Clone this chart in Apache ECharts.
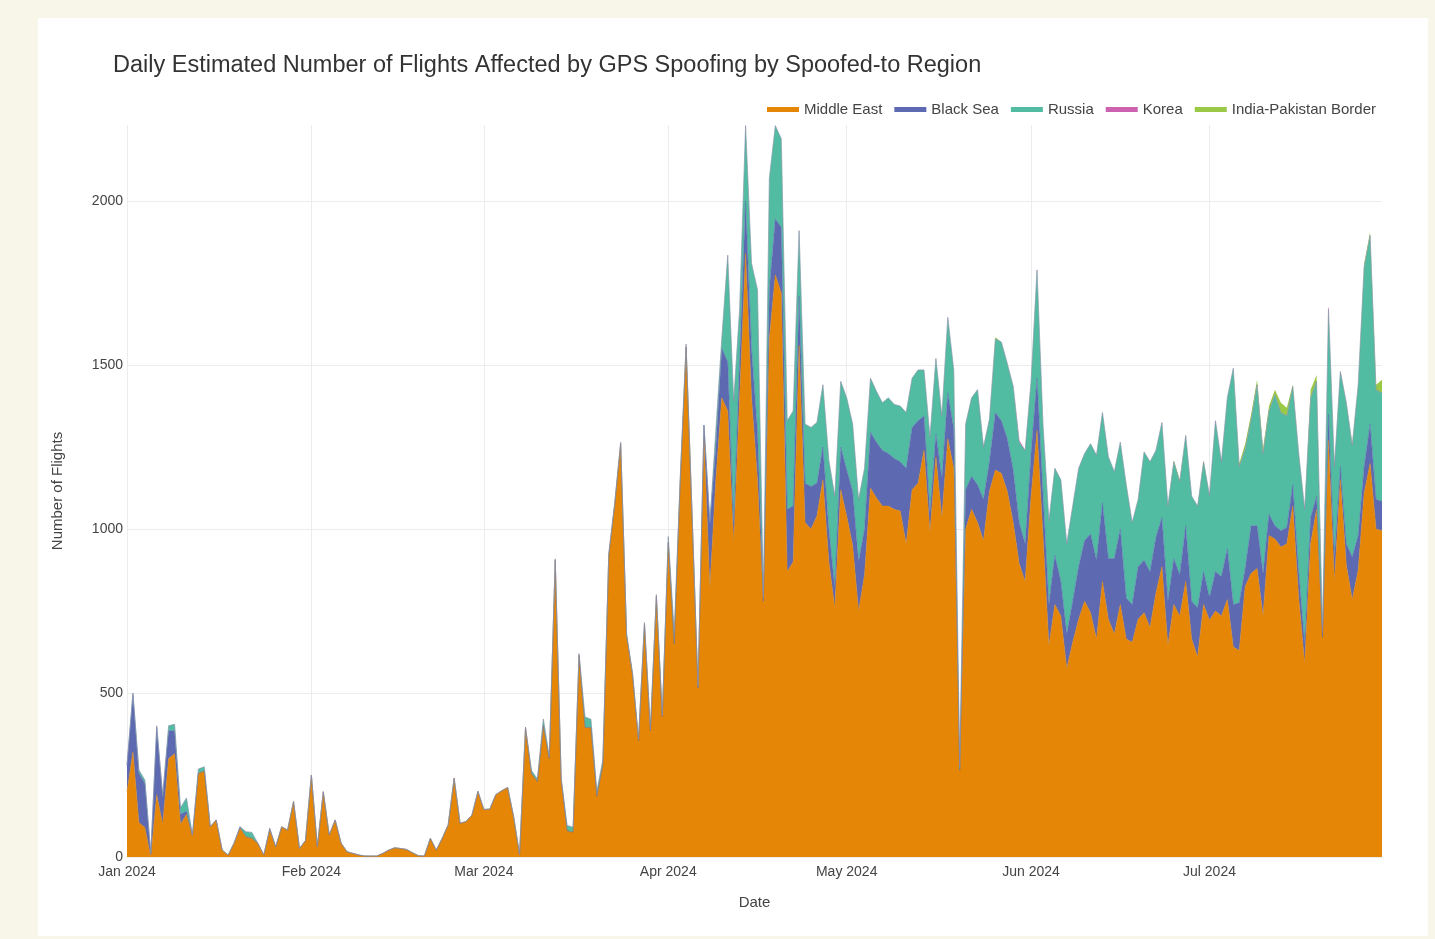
<!DOCTYPE html>
<html>
<head>
<meta charset="utf-8">
<title>GPS Spoofing by Region</title>
<script src="https://cdn.jsdelivr.net/npm/echarts@6/dist/echarts.min.js"></script>
<style>
  html, body { margin: 0; padding: 0; background: #f8f6e8; }
  #mainChart { position: absolute; left: 38px; top: 18px; width: 1390px; height: 918px; background: #ffffff; }
</style>
</head>
<body>
<div id="mainChart"></div>
<script>
/*每日数据, 2024-01-01 至 2024-07-30, 按月分行*/
var middleEast = [].concat(
    [200,320,105,90,0,190,100,300,315,100,130,62,255,262,92,113,21,6,42,88,62,57,42,6,82,31,92,82,169,26,50],
    [250,31,199,67,113,42,16,11,6,3,3,3,11,21,28,26,23,13,4,3,57,21,57,98,240,103,108,128,200],
    [145,146,190,202,212,123,8,395,255,230,400,300,905,236,80,76,615,395,395,185,280,920,1075,1260,675,555,355,710,385,795,428],
    [960,650,1140,1555,1045,515,1280,820,1150,1400,1360,960,1400,1840,1400,1150,770,1580,1775,1720,870,900,1560,1020,1000,1040,1150,900,760,1120],
    [1040,950,750,860,1125,1095,1070,1070,1060,1055,955,1120,1140,1240,990,1220,1035,1275,1185,255,1000,1060,1020,965,1115,1180,1170,1115,1020,895,840],
    [1100,1300,980,645,770,735,575,655,725,780,745,665,840,725,680,770,665,655,725,745,700,805,885,645,770,735,840,665,610,770],
    [722,750,735,785,640,630,825,865,880,735,980,970,945,955,1070,790,590,955,1060,660,1270,840,1150,890,785,875,1110,1200,1000,995]
);
var blackSea = [].concat(
    [80,175,150,135,10,205,85,85,70,30,10,5,0,0,0,0,0,0,0,4,0,0,0,0,5,0,0,0,0,0,0],
    [0,0,0,0,0,0,0,0,0,0,0,0,0,0,0,0,0,0,0,0,0,0,0,0,0,0,0,0,0],
    [0,0,0,0,0,0,0,0,0,0,0,0,0,0,0,0,0,0,0,0,0,0,0,0,0,0,0,0,0,0,0],
    [0,0,0,0,0,0,37,200,100,150,150,50,120,160,150,150,10,150,170,200,190,170,150,120,130,100,100,100,60,130],
    [140,165,150,140,170,170,170,160,155,150,230,190,190,105,60,70,120,140,120,10,120,100,115,125,90,175,160,160,160,125,115],
    [130,160,130,125,150,105,105,125,160,185,240,240,240,185,230,230,125,115,160,160,170,170,150,135,140,125,170,115,150,100],
    [70,120,120,155,130,145,55,145,130,130,65,40,50,50,65,80,60,80,40,10,80,75,40,65,130,105,80,120,90,90]
);
var russia = [].concat(
    [0,5,10,10,0,5,0,15,20,20,40,0,13,13,0,0,0,0,0,0,15,18,0,0,0,0,0,0,0,0,0],
    [0,0,0,0,0,0,0,0,0,0,0,0,0,0,0,0,0,0,0,0,0,0,0,0,0,0,0,0,0],
    [0,0,0,0,0,0,0,0,9,8,21,6,4,4,16,15,5,32,25,16,16,5,5,5,5,5,5,5,5,5,4],
    [17,33,10,9,5,5,0,0,50,30,325,380,150,230,260,430,10,340,285,270,270,290,200,180,180,185,190,210,280,200],
    [220,205,190,185,165,155,145,170,165,170,170,150,155,140,230,230,190,230,180,5,200,240,290,160,130,225,240,230,255,245,285],
    [220,330,210,255,265,310,275,290,300,265,275,320,275,310,265,265,345,250,205,330,335,265,290,290,295,285,275,320,310,335],
    [310,460,350,460,720,415,365,325,430,365,315,400,360,340,300,360,410,365,350,20,320,275,290,430,340,460,610,575,335,330]
);
var korea = [].concat(
    [0,0,0,0,0,0,0,0,0,0,0,0,0,0,0,0,0,0,0,0,0,0,0,0,0,0,0,0,0,0,0],
    [0,0,0,0,0,0,0,0,0,0,0,0,0,0,0,0,0,0,0,0,0,0,0,0,0,0,0,0,0],
    [0,0,0,0,0,0,0,0,0,0,0,0,0,0,0,0,0,0,0,0,0,0,0,0,0,0,0,0,0,0,0],
    [0,0,0,0,0,0,0,0,0,0,0,0,0,0,0,0,0,0,0,0,0,0,0,0,0,0,0,0,0,0],
    [0,0,0,0,0,0,0,0,0,0,0,0,0,0,0,0,0,0,0,5,0,0,0,0,0,0,0,0,0,5,0],
    [0,0,0,0,0,0,0,0,0,0,0,0,0,0,0,0,0,0,0,0,0,0,0,0,0,0,0,0,0,0],
    [0,0,0,0,0,0,0,0,0,0,0,0,0,0,0,0,0,0,0,0,5,0,0,0,0,0,0,0,0,0]
);
var indiaPakistan = [].concat(
    [0,0,0,0,0,0,0,0,0,0,0,0,0,0,0,0,0,0,0,0,0,0,0,0,0,0,0,0,0,0,0],
    [0,0,0,0,0,0,0,0,0,0,0,0,0,0,0,0,0,0,0,0,0,0,0,0,0,0,0,0,0],
    [0,0,0,0,0,0,0,0,0,0,0,0,0,0,0,0,0,0,0,0,0,0,0,0,0,0,0,0,0,0,0],
    [0,0,0,0,0,0,0,0,0,0,0,0,0,0,0,0,0,0,0,0,0,0,0,0,0,0,0,0,0,0],
    [0,0,0,0,0,0,0,0,0,0,0,0,0,0,0,0,0,0,0,0,0,0,0,0,0,5,0,0,0,0,0],
    [0,0,0,0,0,0,0,0,0,0,0,0,0,0,0,0,0,0,0,0,0,0,0,0,5,5,0,0,0,5],
    [0,0,0,0,0,10,15,15,15,15,15,15,30,25,5,0,0,25,20,0,0,0,0,0,5,0,10,10,15,40]
);
var regionNames = ['Middle East', 'Black Sea', 'Russia', 'Korea', 'India-Pakistan Border'];
var regionColors = ['#e58606', '#5d69b1', '#52bca3', '#cc61b0', '#99c945'];
var monthNames = ['Jan','Feb','Mar','Apr','May','Jun','Jul','Aug','Sep','Oct','Nov','Dec'];

/*日期类目*/
var dates = [];
for (var i = 0; i < middleEast.length; i++) {
    var d = new Date(Date.UTC(2024, 0, 1 + i));
    dates.push(d.toISOString().slice(0, 10));
}
function isMonthStart(idx, val) {
    return dates[idx].slice(8) === '01';
}

var fontFamily = '"Liberation Sans", Arial, sans-serif';
var allData = [middleEast, blackSea, russia, korea, indiaPakistan];
var lineWidths = [0.5, 0.5, 0.5, 0.3, 0];
var series = [];
for (var s = 0; s < allData.length; s++) {
    series.push({
        name: regionNames[s],
        type: 'line',
        stack: 'total',
        data: allData[s],
        symbol: 'none',
        lineStyle: { width: lineWidths[s], color: regionColors[s] },
        areaStyle: { color: regionColors[s], opacity: 1 },
        itemStyle: { color: regionColors[s] }
    });
}

var mainChart = echarts.init(document.getElementById('mainChart'));
mainChart.setOption({
    animation: false,
    backgroundColor: '#ffffff',
    color: regionColors,
    title: {
        text: 'Daily Estimated Number of Flights Affected by GPS Spoofing by Spoofed-to Region',
        left: 70,
        top: 31,
        textStyle: { fontFamily: fontFamily, fontSize: 23.5, fontWeight: 'normal', color: '#333333' }
    },
    legend: {
        right: 47,
        top: 79,
        icon: 'rect',
        itemWidth: 32,
        itemHeight: 5,
        itemGap: 12,
        textStyle: { fontFamily: fontFamily, fontSize: 15, color: '#444444' },
        data: regionNames
    },
    grid: { left: 89, right: 46, top: 107, bottom: 79 },
    xAxis: {
        type: 'category',
        data: dates,
        boundaryGap: false,
        name: 'Date',
        nameLocation: 'middle',
        nameGap: 38,
        nameTextStyle: { fontFamily: fontFamily, fontSize: 15, color: '#444444' },
        axisLine: { show: false },
        axisTick: { show: false },
        axisLabel: {
            interval: isMonthStart,
            margin: 8,
            fontFamily: fontFamily,
            fontSize: 14,
            color: '#444444',
            formatter: function (val) {
                return monthNames[parseInt(val.slice(5, 7), 10) - 1] + ' ' + val.slice(0, 4);
            }
        },
        splitLine: { show: true, interval: isMonthStart, lineStyle: { color: '#ececec', width: 1 } }
    },
    yAxis: {
        type: 'value',
        min: 0,
        max: 2232,
        interval: 500,
        name: 'Number of Flights',
        nameLocation: 'middle',
        nameGap: 62,
        nameTextStyle: { fontFamily: fontFamily, fontSize: 15, color: '#444444' },
        axisLine: { show: false },
        axisTick: { show: false },
        axisLabel: {
            margin: 4,
            fontFamily: fontFamily,
            fontSize: 14,
            color: '#444444',
            showMaxLabel: false,
            formatter: function (v) { return String(v); }
        },
        splitLine: { showMaxLine: false, lineStyle: { color: '#ececec', width: 1 } }
    },
    series: series
});
</script>
</body>
</html>
